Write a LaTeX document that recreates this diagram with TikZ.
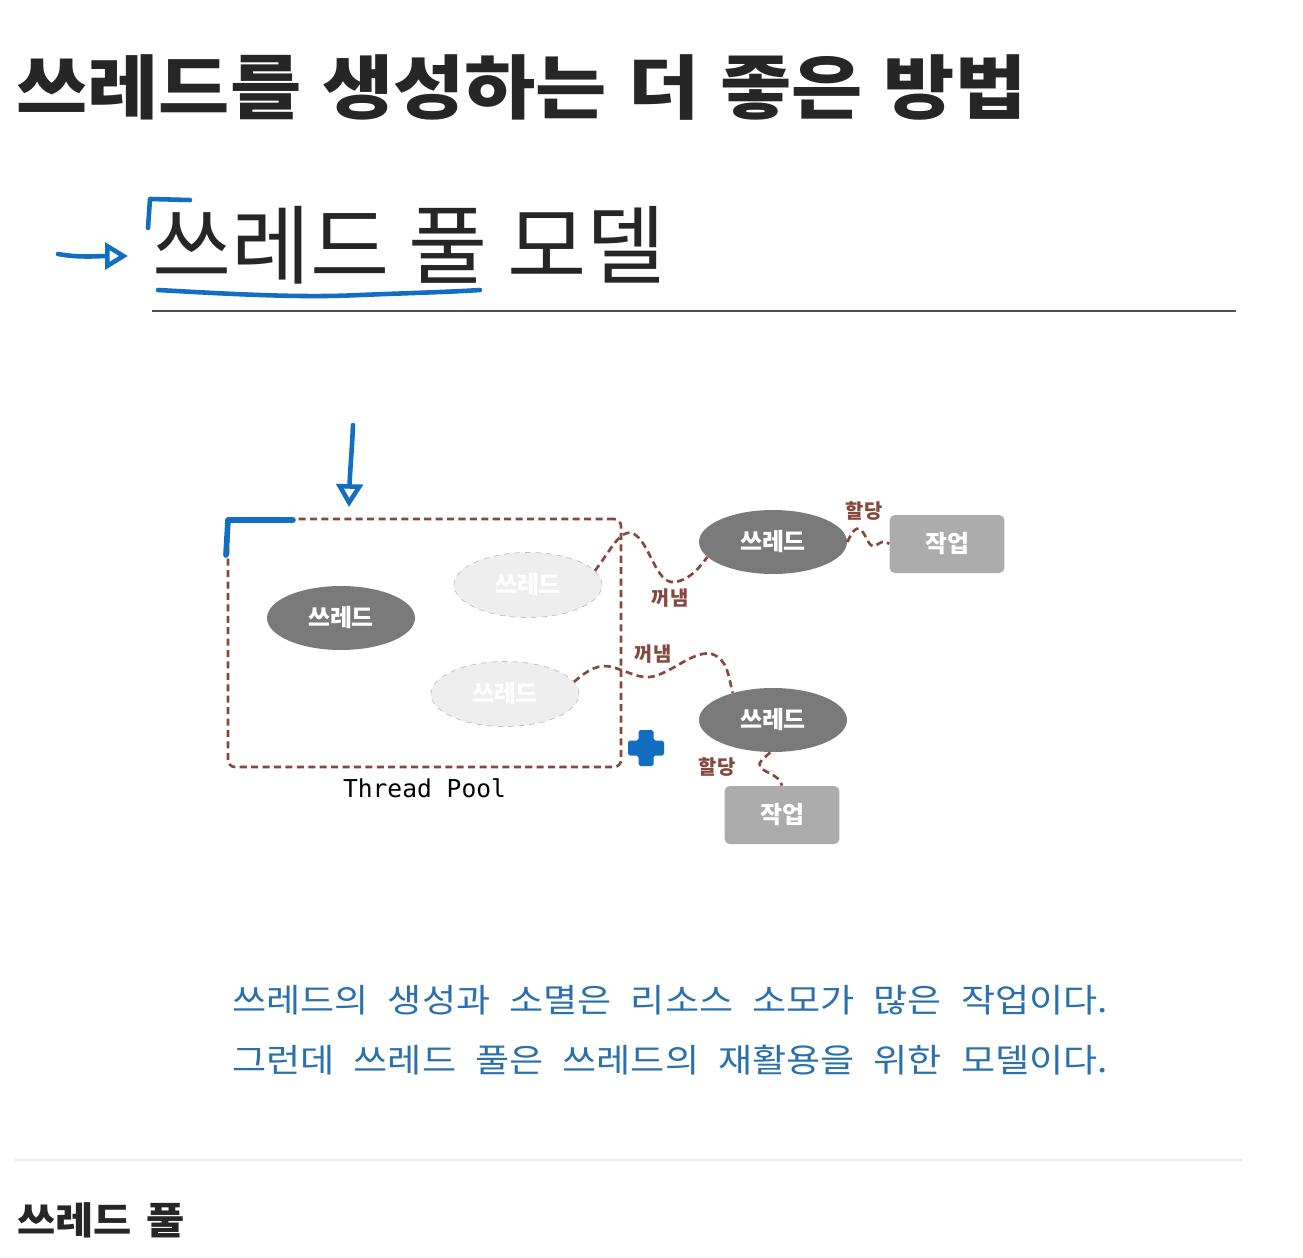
\documentclass[tikz,border=0pt]{standalone}
\usepackage{fontspec}
\newfontfamily\kr{Noto Sans CJK KR}
\newfontfamily\krtitle[FakeStretch=1.11]{Noto Sans CJK KR}
\newfontfamily\krblue[FakeStretch=1.13]{Noto Sans CJK KR}
\newfontfamily\krsub[FakeStretch=1.1]{Noto Sans CJK KR}
\setmonofont{DejaVu Sans Mono}
\usepackage{tikz}
\usetikzlibrary{positioning}
\usetikzlibrary{fit,shapes.geometric,arrows.meta}
\definecolor{inkdark}{RGB}{38,38,38}
\definecolor{rulegray}{RGB}{80,80,80}
\definecolor{poolbrown}{RGB}{133,72,62}
\definecolor{busygray}{RGB}{122,122,122}
\definecolor{idlegray}{RGB}{238,238,238}
\definecolor{idleedge}{RGB}{190,190,190}
\definecolor{jobgray}{RGB}{172,172,172}
\definecolor{noteblue}{RGB}{42,112,172}
\definecolor{penblue}{RGB}{18,110,192}
\newcommand\wordgap[1]{\spaceskip=#1\relax}
\tikzstyle{busy}=[ellipse,fill=busygray,text=white,minimum width=2.96cm,minimum height=1.28cm,inner sep=0pt,font=\kr\bfseries\fontsize{13.6}{14}\selectfont]
\tikzstyle{idle}=[ellipse,fill=idlegray,draw=idleedge,dashed,text=white,minimum width=2.96cm,minimum height=1.3cm,inner sep=0pt,font=\kr\bfseries\fontsize{13.6}{14}\selectfont]
\tikzstyle{job}=[rectangle,rounded corners=3pt,fill=jobgray,text=white,minimum width=2.3cm,minimum height=1.16cm,inner sep=0pt,font=\kr\bfseries\fontsize{13.6}{14}\selectfont]
\tikzstyle{poolbox}=[draw=poolbrown,line width=1.5pt,dash pattern=on 4pt off 2.5pt,rounded corners=4pt,inner sep=0pt]
\tikzstyle{link}=[draw=poolbrown,line width=1.5pt,dash pattern=on 4pt off 2.5pt]
\tikzstyle{tag}=[text=poolbrown,inner sep=0pt,font=\kr\bfseries\fontsize{11.3}{12}\selectfont]
\tikzstyle{note}=[anchor=west,inner sep=0pt,text=noteblue,font=\krblue\fontsize{18.7}{20}\selectfont]
\tikzstyle{pen}=[draw=penblue,line width=2.6pt,line cap=round,line join=round]

\begin{document}
\begin{tikzpicture}[x=0.02cm,y=-0.02cm]
  \useasboundingbox[fill=white] (0,0) rectangle (1303,1258);

  % headings
  \node[anchor=west,inner sep=0pt,text=inkdark,font=\krtitle\bfseries\fontsize{39.7}{42}\selectfont] (title) at (16,87) {\wordgap{0.42cm}쓰레드를 생성하는 더 좋은 방법};
  \node[anchor=west,inner sep=0pt,text=inkdark,font=\kr\fontsize{49}{52}\selectfont] (model) at (152,245) {\wordgap{0.38cm}쓰레드 풀 모델};
  \coordinate (ruleL) at (152,311);
  \coordinate (ruleR) at (1236,311);
  \draw[rulegray,line width=0.04cm] (ruleL) -- (ruleR);

  % pool and threads
  \node[poolbox,fit={(228,519) (621,767)}] (pool) {};
  \node[below=0.2cm of pool,inner sep=0pt,font=\ttfamily\fontsize{14}{16}\selectfont] (poolname) {Thread Pool};

  \foreach \x/\y/\name in {341/618/main, 773/542/out1, 773/720/out2}
    \node[busy] (\name) at (\x,\y) {쓰레드};
  \foreach \x/\y/\name in {528/585/idle1, 505/694/idle2}
    \node[idle] (\name) at (\x,\y) {쓰레드};
  \foreach \x/\y/\name in {947/544/job1, 782/815/job2}
    \node[job] (\name) at (\x,\y) {작업};

  % wavy links
  \path[link] (idle1.12) .. controls (612,548) and (620,530) .. (632,533) .. controls (650,540) and (655,585) .. (675,582) .. controls (692,579) and (700,566) .. (out1.193);
  \path[link] (idle2.10) .. controls (590,668) and (600,664) .. (612,667) .. controls (630,672) and (640,680) .. (655,676) .. controls (675,670) and (695,650) .. (712,654) .. controls (728,660) and (728,675) .. (out2.146);
  \path[link] (out1.east) .. controls (852,532) and (855,527) .. (860,529) .. controls (866,533) and (868,548) .. (875,546) .. controls (880,543) and (884,539) .. (job1.west);
  \path[link] (out2.-95) .. controls (765,758) and (757,762) .. (760,767) .. controls (765,773) and (780,775) .. (job2.north);

  \foreach \x/\y/\name/\label in {670/598/take1/꺼냄, 653/654/take2/꺼냄, 864/511/give1/할당, 717/767/give2/할당}
    \node[tag] (\name) at (\x,\y) {\label};

  % pen marks
  \path[pen,-{Triangle[open,length=13pt,width=15pt]}] (58,254) .. controls (80,258) and (100,256) .. (128,256);
  \path[pen] (148,228) -- (150,199) -- (190,200);
  \path[pen] (158,290) .. controls (230,294) and (300,298) .. (360,295) .. controls (410,293) and (450,292) .. (480,290);
  \path[pen,-{Triangle[open,length=13pt,width=15pt]}] (353,425) .. controls (352,450) and (350,470) .. (349,507);
  \path[pen,line width=3.2pt] (226,555) -- (228,520) -- (293,520);
  \fill[penblue,rounded corners=1pt] (638.5,730) -- (653.5,730) -- (653.5,740.5) -- (664,740.5) -- (664,755.5) -- (653.5,755.5) -- (653.5,766) -- (638.5,766) -- (638.5,755.5) -- (628,755.5) -- (628,740.5) -- (638.5,740.5) -- cycle;

  % notes
  \node[note] (note1) at (232,1000) {\wordgap{0.38cm}쓰레드의 생성과 소멸은 리소스 소모가 많은 작업이다.};
  \node[note] (note2) at (232,1060) {\wordgap{0.38cm}그런데 쓰레드 풀은 쓰레드의 재활용을 위한 모델이다.};

  \coordinate (sepL) at (14,1160);
  \coordinate (sepR) at (1243,1160);
  \draw[black!8,line width=0.04cm] (sepL) -- (sepR);
  \node[anchor=west,inner sep=0pt,text=inkdark,font=\krsub\bfseries\fontsize{21.5}{24}\selectfont] (sub) at (17,1220) {\wordgap{0.3cm}쓰레드 풀};
\end{tikzpicture}
\end{document}
